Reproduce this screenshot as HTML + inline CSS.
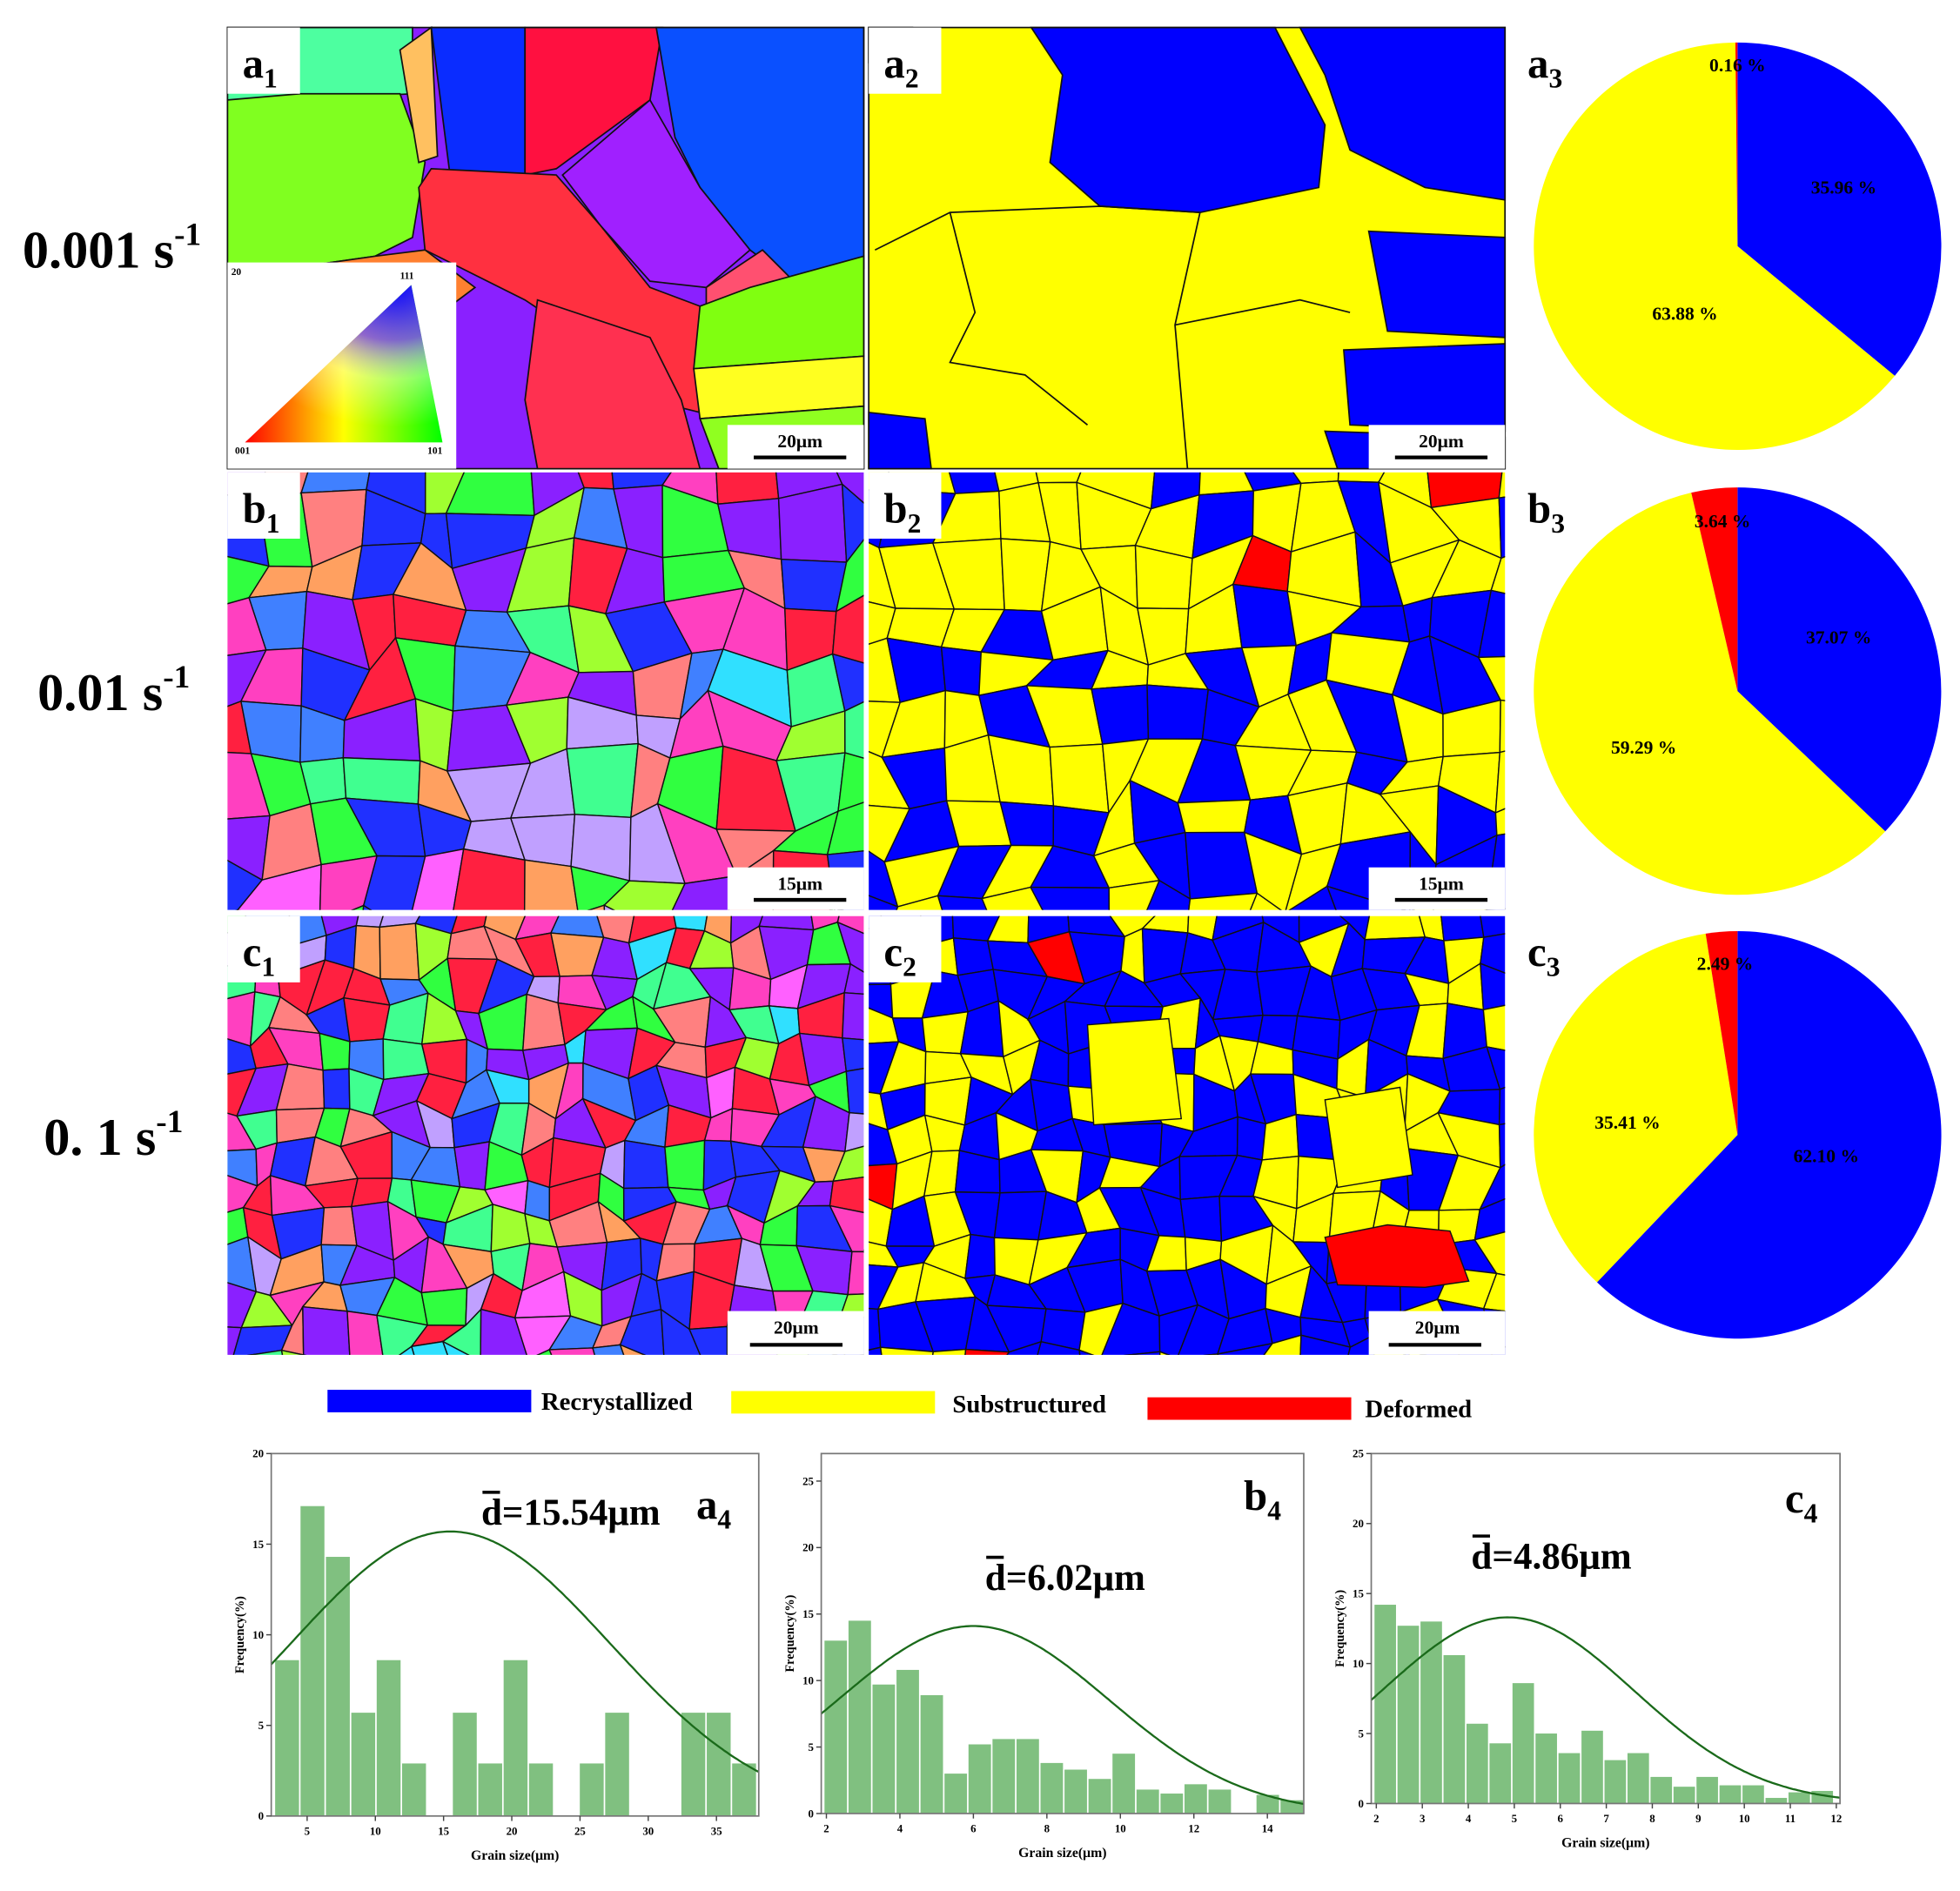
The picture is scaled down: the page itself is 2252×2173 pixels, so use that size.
<!DOCTYPE html>
<html><head><meta charset="utf-8"><style>
html,body{margin:0;padding:0;background:#fff}
svg{display:block}
text{font-family:"Liberation Serif",serif;font-weight:bold}
</style></head><body>
<svg id="s" xmlns="http://www.w3.org/2000/svg" width="2252" height="2173" viewBox="0 0 1568 1513">
<defs>
<linearGradient id="rg" x1="0" y1="0" x2="1" y2="0"><stop offset="0" stop-color="#ff0000"/><stop offset="0.5" stop-color="#ffff00"/><stop offset="1" stop-color="#00ff00"/></linearGradient>
<radialGradient id="bg" cx="0.75" cy="0" r="1"><stop offset="0" stop-color="#0000ff" stop-opacity="1"/><stop offset="0.35" stop-color="#8040ff" stop-opacity="0.8"/><stop offset="0.6" stop-color="#ffffff" stop-opacity="0.4"/><stop offset="0.9" stop-color="#ffffff" stop-opacity="0"/></radialGradient>
<clipPath id="cb1"><rect x="182" y="378" width="509" height="350"/></clipPath>
<clipPath id="cb2"><rect x="695" y="378" width="509" height="350"/></clipPath>
<clipPath id="cc1"><rect x="182" y="733" width="509" height="351"/></clipPath>
<clipPath id="cc2"><rect x="695" y="733" width="509" height="351"/></clipPath>
</defs>

<!-- a1 -->
<g stroke="#111" stroke-width="1.2">
<rect x="182" y="22" width="509" height="353" fill="#8a20ff"/>
<polygon points="182,22 330,22 330,75 240,80 182,80" fill="#4dffa0"/>
<polygon points="182,80 240,75 320,75 340,130 330,190 300,205 230,215 182,215" fill="#80ff20"/>
<polygon points="320,40 345,22 350,125 335,130" fill="#ffc060"/>
<polygon points="345,22 420,22 420,140 360,140" fill="#0a2cff"/>
<polygon points="420,22 530,22 520,80 445,135 420,140" fill="#ff1040"/>
<polygon points="525,22 691,22 691,215 640,230 600,200 560,150 540,110" fill="#0a50ff"/>
<polygon points="520,80 560,150 600,200 565,230 520,225 480,180 450,140" fill="#a020ff"/>
<polygon points="345,135 445,140 480,180 520,230 560,245 580,300 560,330 520,320 480,280 420,240 380,220 340,200 335,150" fill="#ff3040"/>
<polygon points="230,215 300,205 340,200 380,230 340,260 230,270" fill="#ff8030"/>
<polygon points="565,230 610,200 640,230 600,290 565,290" fill="#ff5070"/>
<polygon points="600,230 691,205 691,285 555,295 560,245" fill="#80ff10"/>
<polygon points="555,295 691,285 691,325 560,335" fill="#ffff20"/>
<polygon points="560,335 691,325 691,375 575,375" fill="#90ff20"/>
<polygon points="430,240 520,270 545,320 560,375 430,375 420,320" fill="#ff3050"/>
</g>
<rect x="182" y="210" width="183" height="165" fill="#fff"/>
<polygon points="196,354 329,228 354,354" fill="url(#rg)"/>
<polygon points="196,354 329,228 354,354" fill="url(#bg)"/>
<text x="185" y="220" font-size="8" font-weight="normal">20</text>
<text x="320" y="223" font-size="8" font-weight="normal">111</text>
<text x="188" y="363" font-size="8" font-weight="normal">001</text>
<text x="342" y="363" font-size="8" font-weight="normal">101</text>

<!-- a2 -->
<g stroke="#111" stroke-width="1.2">
<rect x="695" y="22" width="509" height="353" fill="#ffff00"/>
<polygon points="825,22 1020,22 1060,100 1055,150 960,170 880,165 840,130 850,60" fill="#0000ff"/>
<polygon points="1040,22 1204,22 1204,160 1140,150 1080,120 1060,60" fill="#0000ff"/>
<polygon points="1095,185 1204,190 1204,270 1110,265" fill="#0000ff"/>
<polygon points="1075,280 1204,275 1204,345 1080,340" fill="#0000ff"/>
<polygon points="695,330 740,335 745,375 695,375" fill="#0000ff"/>
<polygon points="695,22 730,22 730,45 695,50" fill="#0000ff"/>
<polygon points="1060,345 1204,350 1204,375 1070,375" fill="#0000ff"/>
<polyline fill="none" points="700,200 760,170 880,165 960,170 940,260 950,375"/>
<polyline fill="none" points="760,170 780,250 760,290 820,300 870,340"/>
<polyline fill="none" points="940,260 1040,240 1080,250"/>
</g>

<g id="gb1" clip-path="url(#cb1)"></g>
<g id="gb2" clip-path="url(#cb2)"></g>
<g id="gc1" clip-path="url(#cc1)"></g>
<g id="gc2" clip-path="url(#cc2)"></g>

<!-- panel labels -->
<g fill="#fff"><rect x="182" y="22" width="58" height="53"/><rect x="695" y="22" width="58" height="53"/>
<rect x="182" y="378" width="58" height="53"/><rect x="695" y="378" width="58" height="53"/>
<rect x="182" y="733" width="58" height="53"/><rect x="695" y="733" width="58" height="53"/>
<rect x="582" y="340" width="109" height="35"/><rect x="1095" y="340" width="109" height="35"/>
<rect x="582" y="694" width="109" height="34"/><rect x="1095" y="694" width="109" height="34"/>
<rect x="582" y="1049" width="109" height="35"/><rect x="1095" y="1049" width="109" height="35"/></g>
<g font-size="34">
<text x="194" y="62">a<tspan font-size="22" dy="8">1</tspan></text>
<text x="707" y="62">a<tspan font-size="22" dy="8">2</tspan></text>
<text x="1222" y="62">a<tspan font-size="22" dy="8">3</tspan></text>
<text x="194" y="418">b<tspan font-size="22" dy="8">1</tspan></text>
<text x="707" y="418">b<tspan font-size="22" dy="8">2</tspan></text>
<text x="1222" y="418">b<tspan font-size="22" dy="8">3</tspan></text>
<text x="194" y="773">c<tspan font-size="22" dy="8">1</tspan></text>
<text x="707" y="773">c<tspan font-size="22" dy="8">2</tspan></text>
<text x="1222" y="773">c<tspan font-size="22" dy="8">3</tspan></text>
</g>
<g font-size="15" text-anchor="middle">
<text x="640" y="358">20μm</text><text x="1153" y="358">20μm</text>
<text x="640" y="712">15μm</text><text x="1153" y="712">15μm</text>
<text x="637" y="1067">20μm</text><text x="1150" y="1067">20μm</text>
</g>
<g stroke="#000" stroke-width="3">
<line x1="603" y1="366" x2="677" y2="366"/><line x1="1116" y1="366" x2="1190" y2="366"/>
<line x1="603" y1="720" x2="677" y2="720"/><line x1="1116" y1="720" x2="1190" y2="720"/>
<line x1="600" y1="1076" x2="674" y2="1076"/><line x1="1111" y1="1076" x2="1185" y2="1076"/>
</g>

<!-- row labels -->
<g font-size="42">
<text x="18" y="214">0.001 s<tspan font-size="26" dy="-18">-1</tspan></text>
<text x="30" y="568">0.01 s<tspan font-size="26" dy="-18">-1</tspan></text>
<text x="35" y="924">0. 1 s<tspan font-size="26" dy="-18">-1</tspan></text>
</g>

<!-- pies -->
<path d="M1390,197 L1390,34 A163,163 0 0 1 1515.8,300.7 Z" fill="#0000ff"/>
<path d="M1390,197 L1515.8,300.7 A163,163 0 1 1 1388.3,34 Z" fill="#ffff00"/>
<path d="M1390,197 L1388.3,34 L1390,34 Z" fill="#ff0000"/>
<path d="M1390,553 L1390,390 A163,163 0 0 1 1508.2,665.2 Z" fill="#0000ff"/>
<path d="M1390,553 L1508.2,665.2 A163,163 0 1 1 1353,394.2 Z" fill="#ffff00"/>
<path d="M1390,553 L1353,394.2 A163,163 0 0 1 1390,390 Z" fill="#ff0000"/>
<path d="M1390,908 L1390,745 A163,163 0 1 1 1277.6,1026 Z" fill="#0000ff"/>
<path d="M1390,908 L1277.6,1026 A163,163 0 0 1 1364.5,747 Z" fill="#ffff00"/>
<path d="M1390,908 L1364.5,747 A163,163 0 0 1 1390,745 Z" fill="#ff0000"/>
<g font-size="15" text-anchor="middle">
<text x="1390" y="57">0.16 %</text><text x="1475" y="155">35.96 %</text><text x="1348" y="256">63.88 %</text>
<text x="1378" y="422">3.64 %</text><text x="1471" y="515">37.07 %</text><text x="1315" y="603">59.29 %</text>
<text x="1380" y="776">2.49 %</text><text x="1302" y="903">35.41 %</text><text x="1461" y="930">62.10 %</text>
</g>

<!-- legend -->
<rect x="262" y="1112" width="163" height="18" fill="#0000ff"/>
<rect x="585" y="1113" width="163" height="18" fill="#ffff00"/>
<rect x="918" y="1118" width="163" height="18" fill="#ff0000"/>
<g font-size="20"><text x="433" y="1128">Recrystallized</text><text x="762" y="1130">Substructured</text><text x="1092" y="1134">Deformed</text></g>

<g id="hist"></g>
</svg>
<script>
var NS="http://www.w3.org/2000/svg";
function el(p,t,a,txt){var e=document.createElementNS(NS,t);for(var k in a)e.setAttribute(k,a[k]);if(txt!==undefined)e.textContent=txt;p.appendChild(e);return e;}
var seed=1;function rnd(){seed=(seed*16807)%2147483647;return (seed-1)/2147483646;}
function pick(cols){var r=rnd(),s=0;for(var i=0;i<cols.length;i++){s+=cols[i][1];if(r<s)return cols[i][0];}return cols[cols.length-1][0];}
function grains(id,x0,y0,w,h,c,cols,sd,sw){
 seed=sd;var g=document.getElementById(id);
 x0-=c/2;y0-=c/2;
 var nx=Math.ceil(w/c)+2,ny=Math.ceil(h/c)+2,P=[];
 for(var i=0;i<=nx;i++){P[i]=[];for(var j=0;j<=ny;j++)P[i][j]=[x0+i*c+(rnd()-0.5)*c*0.7,y0+j*c+(rnd()-0.5)*c*0.7];}
 for(var i=0;i<nx;i++)for(var j=0;j<ny;j++){
  var pts=[P[i][j],P[i+1][j],P[i+1][j+1],P[i][j+1]].map(function(p){return p[0].toFixed(1)+","+p[1].toFixed(1)}).join(" ");
  el(g,"polygon",{points:pts,fill:pick(cols),stroke:"#111","stroke-width":sw});
 }
}
var ipf=[["#2030ff",.14],["#8a20ff",.12],["#ff2040",.12],["#30ff40",.10],["#ff40c0",.09],["#ff8080",.06],["#40ff90",.05],["#4080ff",.08],["#ffa060",.05],["#c0a0ff",.05],["#a0ff30",.06],["#30e0ff",.04],["#ff60ff",.04]];
grains("gb1",182,378,509,350,42,ipf,7,1);
grains("gc1",182,733,509,351,28,ipf,11,1);
grains("gb2",695,378,509,350,40,[["#0000ff",.38],["#ffff00",.58],["#ff0000",.04]],5,1);
grains("gc2",695,733,509,351,30,[["#0000ff",.63],["#ffff00",.35],["#ff0000",.02]],9,1);
var g2=document.getElementById("gc2");
el(g2,"polygon",{points:"1060,990 1110,980 1160,985 1175,1025 1140,1030 1070,1028",fill:"#ff0000",stroke:"#111","stroke-width":1});
el(g2,"polygon",{points:"870,820 935,815 945,895 875,900",fill:"#ffff00",stroke:"#111","stroke-width":1});
el(g2,"polygon",{points:"1060,880 1120,870 1130,940 1070,950",fill:"#ffff00",stroke:"#111","stroke-width":1});

var H=document.getElementById("hist");
function hist(o){
 var L=o.L,R=o.R,T=o.T,B=o.B;
 function X(v){return L+(v-o.x0)/(o.x1-o.x0)*(R-L);}
 function Y(v){return B-(v)/(o.ymax)*(B-T);}
 for(var i=0;i<o.vals.length;i++){var v=o.vals[i];if(v<=0)continue;
  var xa=o.bx+i*o.bw;el(H,"rect",{x:xa+0.6,y:Y(v),width:o.bw-1.2,height:B-Y(v),fill:"#80c080"});}
 var d="";for(var k=0;k<=200;k++){var x=o.x0+(o.x1-o.x0)*k/200;var y=o.pk*Math.exp(-(x-o.mu)*(x-o.mu)/o.s2);d+=(k?"L":"M")+X(x).toFixed(1)+","+Y(y).toFixed(1);}
 el(H,"path",{d:d,fill:"none",stroke:"#1a6a1a","stroke-width":1.6});
 el(H,"rect",{x:L,y:T,width:R-L,height:B-T,fill:"none",stroke:"#777","stroke-width":1.2});
 o.yt.forEach(function(v){el(H,"line",{x1:L,y1:Y(v),x2:L-4,y2:Y(v),stroke:"#444"});el(H,"text",{x:L-6,y:Y(v)+3,"font-size":9,"text-anchor":"end"},v);});
 o.xt.forEach(function(v){el(H,"line",{x1:X(v),y1:B,x2:X(v),y2:B+4,stroke:"#444"});el(H,"text",{x:X(v),y:B+15,"font-size":9,"text-anchor":"middle"},v);});
 el(H,"text",{x:(L+R)/2,y:B+35,"font-size":11,"text-anchor":"middle"},"Grain size(μm)");
 el(H,"text",{x:0,y:0,"font-size":10,"text-anchor":"middle",transform:"translate("+(L-22)+","+((T+B)/2)+") rotate(-90)"},"Frequency(%)");
 var t=el(H,"text",{x:o.dx,y:o.dy,"font-size":30});
 el(t,"tspan",{},"d");el(t,"tspan",{},"="+o.dv+"μm");
 el(H,"line",{x1:o.dx+1,y1:o.dy-26,x2:o.dx+15,y2:o.dy-26,stroke:"#000","stroke-width":2.5});
 var l=el(H,"text",{x:o.lx,y:o.ly,"font-size":34},o.lab);el(l,"tspan",{"font-size":22,dy:8},"4");
}
hist({L:217,R:607,T:1163,B:1453,x0:2.37,x1:38.1,ymax:20,bx:217+(2.6-2.37)*10.92,bw:1.86*10.92,
 vals:[8.6,17.1,14.3,5.7,8.6,2.9,0,5.7,2.9,8.6,2.9,0,2.9,5.7,0,0,5.7,5.7,2.9],
 pk:15.7,mu:15.5,s2:274,yt:[0,5,10,15,20],xt:[5,10,15,20,25,30,35],dx:385,dy:1220,dv:"15.54",lx:557,ly:1215,lab:"a"});
hist({L:657,R:1043,T:1163,B:1451,x0:1.86,x1:14.99,ymax:27.07,bx:659,bw:19.2,
 vals:[13,14.5,9.7,10.8,8.9,3,5.2,5.6,5.6,3.8,3.3,2.6,4.5,1.8,1.5,2.2,1.8,0,1.4,1.0],
 pk:14.1,mu:6,s2:27.2,yt:[0,5,10,15,20,25],xt:[2,4,6,8,10,12,14],dx:788,dy:1272,dv:"6.02",lx:995,ly:1208,lab:"b"});
hist({L:1097,R:1472,T:1163,B:1443,x0:1.89,x1:12.08,ymax:25,bx:1099,bw:18.4,
 vals:[14.2,12.7,13,10.6,5.7,4.3,8.6,5,3.6,5.2,3.1,3.6,1.9,1.2,1.9,1.3,1.3,0.4,0.8,0.9],
 pk:13.3,mu:4.86,s2:15.03,yt:[0,5,10,15,20,25],xt:[2,3,4,5,6,7,8,9,10,11,12],dx:1177,dy:1255,dv:"4.86",lx:1428,ly:1210,lab:"c"});
</script>
</body></html>
